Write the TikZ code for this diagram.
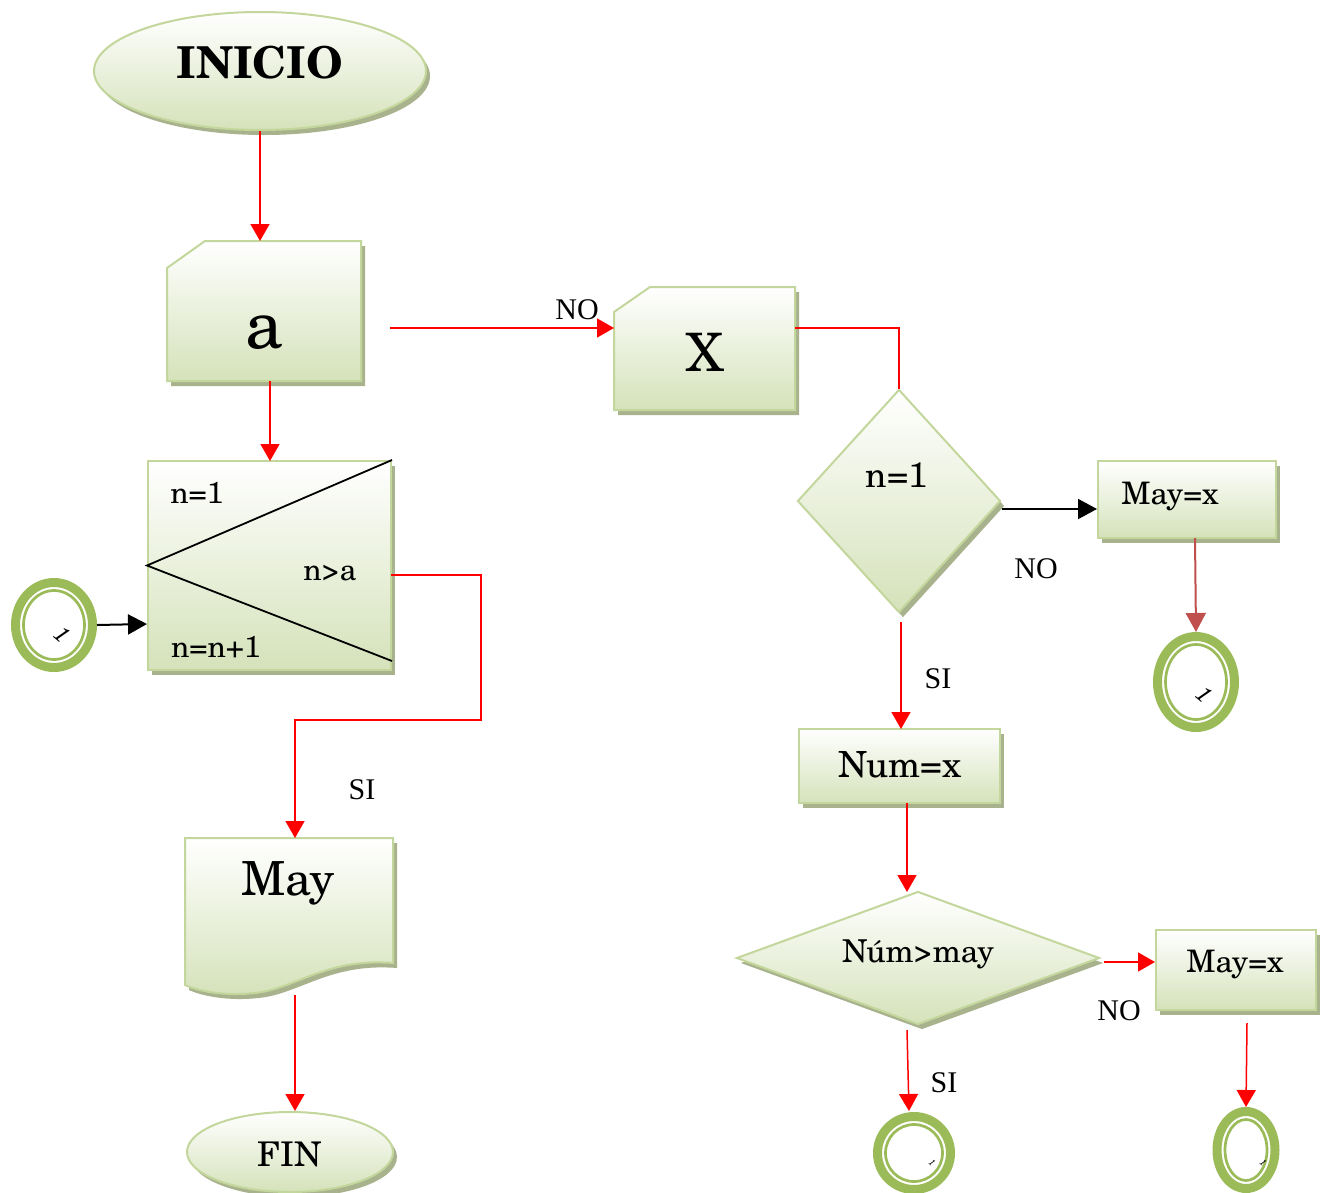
\documentclass[tikz,border=0pt]{standalone}
\usepackage{fontspec}
\setmainfont{TeX Gyre Schola}
\newfontfamily\tms{Liberation Serif}
\usetikzlibrary{shapes.geometric,shadows,arrows.meta,calc}
\definecolor{bord}{HTML}{C3D69B}
\definecolor{fillc}{HTML}{D5E2BA}
\definecolor{shd}{HTML}{A8B38E}
\definecolor{ringc}{HTML}{9BBB59}
\definecolor{brn}{HTML}{C0504D}
\begin{document}
\begin{tikzpicture}[x=1pt,y=-1pt,
  shp/.style={draw=bord,line width=2pt,top color=white,bottom color=fillc,
    drop shadow={shadow xshift=4pt,shadow yshift=-5pt,fill=shd,opacity=1}},
  box/.style={shp,rectangle,inner sep=0pt},
  dia/.style={shp,diamond,inner sep=0pt},
  ell/.style={shp,ellipse,inner sep=0pt},
  lbl/.style={anchor=base,inner sep=0pt},
  sz/.style={font=\fontsize{#1}{#1}\selectfont},
  tl/.style={anchor=base,inner sep=0pt,font=\tms\fontsize{30}{30}\selectfont},
  ring/.style={ellipse,draw=ringc,line width=9pt,inner sep=0pt},
  ringin/.style={ellipse,draw=ringc,line width=2.7pt,inner sep=0pt},
  mk/.style={inner sep=0pt,rotate=-40,font=\itshape\fontsize{#1}{#1}\selectfont},
  ra/.style={draw=red,line width=1.5pt,-{Triangle[length=17pt,width=19pt]}},
  ba/.style={draw=black,line width=2pt,-{Triangle[length=19pt,width=20pt]}},
  bra/.style={draw=brn,line width=2pt,-{Triangle[length=19pt,width=20pt]}},
  rl/.style={draw=red,line width=1.5pt}]
\useasboundingbox (0,0) rectangle (1323,1192);
\fill[white] (0,0) rectangle (1323,1192);

% ---------- shapes ----------
\node[ell,minimum width=332pt,minimum height=118pt] (ini) at (260,71) {};
\node[lbl,font=\bfseries\fontsize{44}{44}\selectfont] (tini) at (260,78) {INICIO};

\path[shp] (167,268) -- (205,241) -- (361,241) -- (361,381) -- (167,381) -- cycle;
\node[lbl,sz=68] (ta) at (264,348) {a};

\path[shp] (614,312) -- (650,287) -- (795,287) -- (795,410) -- (614,410) -- cycle;
\node[lbl,sz=53] (tx) at (705,371) {X};

\node[box,minimum width=243pt,minimum height=209pt] (lp) at (269.5,565.5) {};
\draw[line width=1.8pt] (lp.north east) -- (lp.west) -- ([yshift=10pt]lp.south east);
\node[lbl,sz=30] (tl1) at (197,503) {n=1};
\node[lbl,sz=30] (tl2) at (330,580) {n>a};
\node[lbl,sz=30] (tl3) at (216,657) {n=n+1};

\path[shp] (185,838) -- (393,838) -- (393,963) .. controls (330,958) and (300,985) .. (262,992)
  .. controls (230,997) and (200,992) .. (185,985) -- cycle;
\node[lbl,sz=47] (tmay) at (288,895) {May};

\node[ell,minimum width=206pt,minimum height=80pt] (fin) at (290,1152) {};
\node[lbl,sz=34] (tfin) at (290,1166) {FIN};

\node[dia,minimum width=203pt,minimum height=223pt] (d1) at (899,501) {};
\node[lbl,sz=35] (td1) at (897,487) {n=1};

\node[box,minimum width=178pt,minimum height=77pt] (m1) at (1187,499.5) {};
\node[lbl,sz=31] (tm1) at (1170,504) {May=x};

\node[box,minimum width=201pt,minimum height=74pt] (num) at (899.5,766) {};
\node[lbl,sz=36] (tnum) at (900,777) {Num=x};

\node[dia,minimum width=363pt,minimum height=133pt] (d2) at (918,958) {};
\node[lbl,sz=31.5] (td2) at (918,962) {Núm>may};

\node[box,minimum width=160pt,minimum height=80pt] (m2) at (1236,970) {};
\node[lbl,sz=31] (tm2) at (1235,972) {May=x};

% ---------- connector circles ----------
\node[ring,minimum width=77pt,minimum height=85pt] (c1) at (54,625) {};
\node[ringin,minimum width=61pt,minimum height=69pt] (c1i) at (54,625) {};
\node[mk=22] (c1m) at (62,634) {1};

\node[ring,minimum width=77pt,minimum height=91pt] (c2) at (1196,682) {};
\node[ringin,minimum width=61pt,minimum height=75pt] (c2i) at (1196,682) {};
\node[mk=22] (c2m) at (1204,694) {1};

\node[ring,minimum width=73pt,minimum height=73pt] (c3) at (914,1153) {};
\node[ringin,minimum width=57pt,minimum height=57pt] (c3i) at (914,1153) {};
\node[mk=9] (c3m) at (932,1163) {1};

\node[ring,minimum width=58pt,minimum height=77pt] (c4) at (1246,1150) {};
\node[ringin,minimum width=42pt,minimum height=61pt] (c4i) at (1246,1150) {};
\node[mk=9] (c4m) at (1263,1163) {1};

% ---------- connector points ----------
\coordinate (aT) at (260,241);
\coordinate (aB) at (270,381);
\coordinate (aR) at (390,328);
\coordinate (xL) at (614,328);
\coordinate (xR) at (795,328);
\coordinate (lpT) at (270,461);
\coordinate (lpR) at (391,575);
\coordinate (mayT) at (295,838);
\coordinate (mayB) at (295,995);
\coordinate (d1B) at (901,622);
\coordinate (numT) at (901,729);
\coordinate (numB) at (907,803);
\coordinate (d2T) at (907,892);
\coordinate (d2B) at (907,1030);
\coordinate (c3T) at (909,1111);
\coordinate (m1B) at (1195,538);
\coordinate (m2B) at (1247,1023);

% ---------- connectors ----------
\draw[ra] (ini.south) -- (aT);
\draw[ra] (aB) -- (lpT);
\draw[ra] (aR) -- (xL);
\draw[rl] (xR) -| (d1.north);
\draw[ba] (d1.east |- 0,509) -- (m1.west |- 0,509);
\draw[bra] (m1B) -- (c2.north);
\draw[ra] (d1B) -- (numT);
\draw[ra] (numB) -- (d2T);
\draw[ra] ([xshift=3pt,yshift=-4pt]d2.east) -- (m2.west |- 0,962);
\draw[ra] (m2B) -- (c4.north);
\draw[ra] (d2B) -- (c3T);
\draw[ba] (c1.east) -- (lp.west |- 0,624);
\draw[ra] (lpR) -- (481,575) -- (481,720) -- (295,720) -- (mayT);
\draw[ra] (mayB) -- (mayB |- fin.north);

% ---------- labels ----------
\node[tl] (no1) at (577,319) {NO};
\node[tl] (no2) at (1036,578) {NO};
\node[tl] (si1) at (938,688) {SI};
\node[tl] (si2) at (362,799) {SI};
\node[tl] (no3) at (1119,1020) {NO};
\node[tl] (si3) at (944,1092) {SI};
\end{tikzpicture}
\end{document}
